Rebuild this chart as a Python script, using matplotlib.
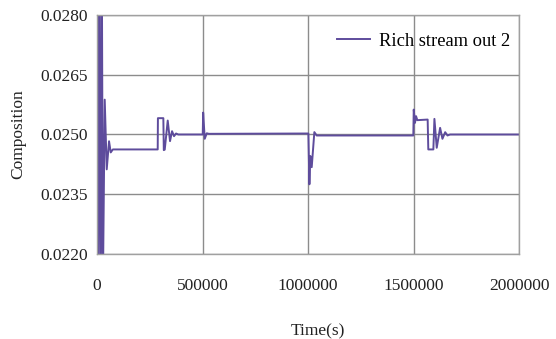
import matplotlib
matplotlib.use("Agg")
import matplotlib.pyplot as plt

# time (s) and composition of rich stream out 2
time_s = [0, 5000, 11000, 17000, 23000, 28000, 36500, 46000, 57000, 65000, 75000,
          287600, 288600, 314300, 316500, 320900, 335100, 346000, 355500, 365000, 374500, 385000,
          501000, 503000, 510500, 520000, 530000,
          1001700, 1006500, 1011000, 1017500, 1030000, 1041000,
          1499000, 1501000, 1507000, 1512000, 1518000, 1567000, 1570000, 1594000, 1599000,
          1610000, 1626000, 1637000, 1650000, 1661000, 1673000, 2000000]
composition = [0.0300, 0.0200, 0.0300, 0.0205, 0.0290, 0.0212, 0.025875, 0.024125, 0.02483, 0.02455, 0.024625,
               0.024625, 0.02541, 0.02541, 0.024608, 0.02462, 0.02535, 0.024833, 0.025083, 0.024958, 0.025025, 0.02500,
               0.02500, 0.02555, 0.024892, 0.02503, 0.025017,
               0.025025, 0.02375, 0.02446, 0.02418, 0.02506, 0.024975,
               0.024975, 0.025625, 0.025292, 0.02546, 0.02536, 0.025375, 0.024625, 0.024625, 0.025392,
               0.024667, 0.025167, 0.024892, 0.025058, 0.024975, 0.02500, 0.02500]

x_ticks = [0, 500000, 1000000, 1500000, 2000000]
x_tick_labels = ["0", "500000", "1000000", "1500000", "2000000"]
y_ticks = [0.0220, 0.0235, 0.0250, 0.0265, 0.0280]
y_tick_labels = ["0.0220", "0.0235", "0.0250", "0.0265", "0.0280"]

plt.rcParams['font.family'] = ['Liberation Serif', 'DejaVu Serif']

fig = plt.figure(figsize=(5.56, 3.39), dpi=100)
ax = fig.add_axes([0.1745, 0.2507, 0.759, 0.7051])

ax.plot(time_s, composition, color='#5e4c9c', linewidth=1.4, label='Rich stream out 2')

ax.set_xlim(0, 2000000)
ax.set_ylim(0.0220, 0.0280)
ax.set_xticks(x_ticks)
ax.set_xticklabels(x_tick_labels)
ax.set_yticks(y_ticks)
ax.set_yticklabels(y_tick_labels)
ax.tick_params(axis='x', length=0, pad=17, labelsize=12.5, colors='#222222')
ax.tick_params(axis='y', length=0, pad=6.5, labelsize=12.5, colors='#222222')

ax.grid(True, color='#8c8c8c', linewidth=1.0)
ax.set_axisbelow(True)
for sp in ax.spines.values():
    sp.set_color('#a0a0a0')
    sp.set_linewidth(1.0)

ax.set_xlabel('Time(s)', fontsize=12.5, color='#222222', labelpad=14)
ax.xaxis.set_label_coords(0.524, -0.29)
ax.set_ylabel('Composition', fontsize=12.5, color='#222222', labelpad=10)

ax.legend(loc='upper right', frameon=False, fontsize=13.3, handlelength=1.8,
          handletextpad=0.5, bbox_to_anchor=(1.019, 0.995))

fig.savefig('out.png', dpi=100)
